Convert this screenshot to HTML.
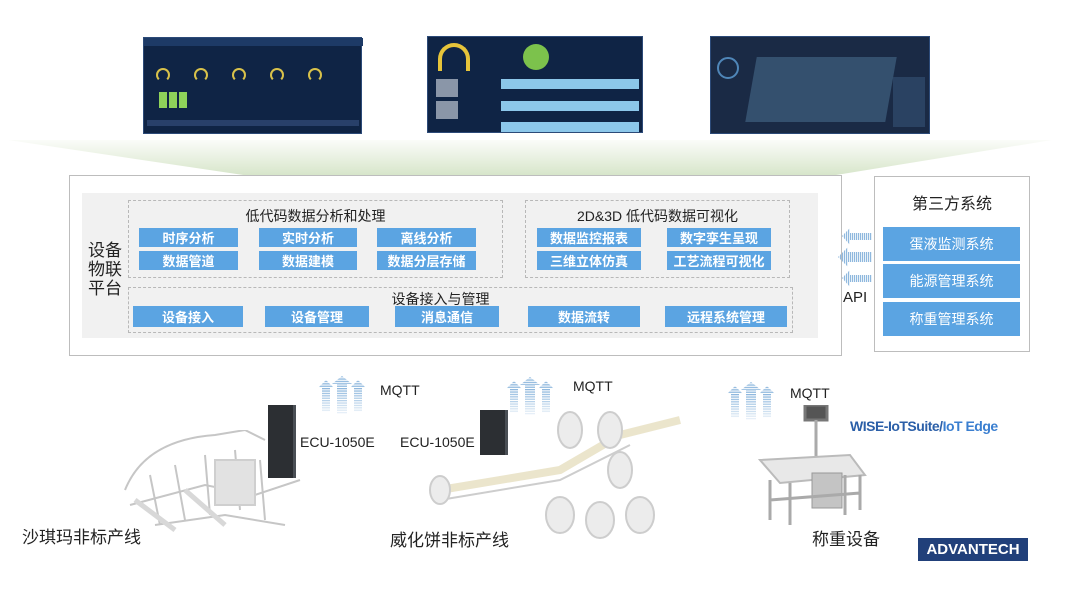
<!DOCTYPE html>
<html><head><meta charset="utf-8"><style>
*{margin:0;padding:0;box-sizing:border-box}
body{width:1080px;height:589px;position:relative;background:#fff;overflow:hidden;font-family:"Liberation Sans","Noto Sans CJK SC",sans-serif;color:#222}
.a{position:absolute}
.b{position:absolute;background:#5ba4e2;color:#fff;font-size:13px;font-weight:bold;display:flex;align-items:center;justify-content:center}
.t{position:absolute;background:#5ba4e2;color:#fff;font-size:14px;display:flex;align-items:center;justify-content:center}
.d{position:absolute;border:1px dashed #b8b8b8}
.scr{position:absolute;background:#0f2445;border:1px solid #2c4a78}
.gg{position:absolute;width:14px;height:14px;border:2px solid #d9c24a;border-radius:50%;border-bottom-color:transparent}
</style></head><body>
<svg class="a" style="left:0;top:138px" width="1080" height="40">
<defs><linearGradient id="g" x1="0" y1="0" x2="0" y2="1"><stop offset="0" stop-color="#fbfcf9"/><stop offset="1" stop-color="#d6e5c9"/></linearGradient></defs>
<polygon points="8,2 1052,2 830,38 250,38" fill="url(#g)"/></svg>
<div class="scr" style="left:143px;top:37px;width:219px;height:97px">
<div class="a" style="left:0;top:0;width:219px;height:8px;background:#1d3a66"></div>
<div class="gg" style="left:12px;top:30px"></div><div class="gg" style="left:50px;top:30px"></div><div class="gg" style="left:88px;top:30px"></div><div class="gg" style="left:126px;top:30px"></div><div class="gg" style="left:164px;top:30px"></div>
<div class="a" style="left:15px;top:54px;width:8px;height:16px;background:#8fd35a"></div>
<div class="a" style="left:25px;top:54px;width:8px;height:16px;background:#8fd35a"></div>
<div class="a" style="left:35px;top:54px;width:8px;height:16px;background:#8fd35a"></div>
<div class="a" style="left:3px;top:82px;width:212px;height:6px;background:#28406a"></div></div>
<div class="scr" style="left:427px;top:36px;width:216px;height:97px">
<div class="a" style="left:10px;top:6px;width:32px;height:28px;border:4px solid #e6c43a;border-bottom:none;border-radius:16px 16px 0 0"></div>
<div class="a" style="left:95px;top:7px;width:26px;height:26px;border-radius:50%;background:#7cc24c"></div>
<div class="a" style="left:8px;top:42px;width:22px;height:18px;background:#8a96a8"></div>
<div class="a" style="left:8px;top:64px;width:22px;height:18px;background:#8a96a8"></div>
<div class="a" style="left:73px;top:42px;width:138px;height:10px;background:#8cc7ea"></div>
<div class="a" style="left:73px;top:64px;width:138px;height:10px;background:#8cc7ea"></div>
<div class="a" style="left:73px;top:85px;width:138px;height:10px;background:#8cc7ea"></div></div>
<div class="scr" style="left:710px;top:36px;width:220px;height:98px;background:#1a2a45">
<div class="a" style="left:40px;top:20px;width:140px;height:65px;background:#34506e;transform:skewX(-10deg)"></div>
<div class="a" style="left:6px;top:20px;width:22px;height:22px;border:2px solid #4f86b8;border-radius:50%"></div>
<div class="a" style="left:182px;top:40px;width:32px;height:50px;background:#2a4262"></div></div>
<div class="a" style="left:69px;top:175px;width:773px;height:181px;border:1px solid #bdbdbd"></div>
<div class="a" style="left:82px;top:193px;width:736px;height:145px;background:#f1f1f1"></div>
<div class="d" style="left:128px;top:200px;width:375px;height:78px"></div>
<div class="d" style="left:525px;top:200px;width:265px;height:78px"></div>
<div class="d" style="left:128px;top:287px;width:665px;height:46px"></div>
<div class="a" style="left:88px;top:241px;font-size:17px;line-height:19px;width:40px">设备<br>物联<br>平台</div>
<div class="a" style="left:128px;top:206px;width:375px;text-align:center;font-size:14px">低代码数据分析和处理</div>
<div class="a" style="left:525px;top:206px;width:265px;text-align:center;font-size:14px">2D&amp;3D 低代码数据可视化</div>
<div class="a" style="left:128px;top:289px;width:625px;text-align:center;font-size:14px">设备接入与管理</div>
<div class="b" style="left:139px;top:228px;width:99px;height:19px">时序分析</div>
<div class="b" style="left:259px;top:228px;width:98px;height:19px">实时分析</div>
<div class="b" style="left:377px;top:228px;width:99px;height:19px">离线分析</div>
<div class="b" style="left:139px;top:251px;width:99px;height:19px">数据管道</div>
<div class="b" style="left:259px;top:251px;width:98px;height:19px">数据建模</div>
<div class="b" style="left:377px;top:251px;width:99px;height:19px">数据分层存储</div>
<div class="b" style="left:537px;top:228px;width:104px;height:19px">数据监控报表</div>
<div class="b" style="left:667px;top:228px;width:104px;height:19px">数字孪生呈现</div>
<div class="b" style="left:537px;top:251px;width:104px;height:19px">三维立体仿真</div>
<div class="b" style="left:667px;top:251px;width:104px;height:19px">工艺流程可视化</div>
<div class="b" style="left:133px;top:306px;width:110px;height:21px">设备接入</div>
<div class="b" style="left:265px;top:306px;width:104px;height:21px">设备管理</div>
<div class="b" style="left:395px;top:306px;width:104px;height:21px">消息通信</div>
<div class="b" style="left:528px;top:306px;width:112px;height:21px">数据流转</div>
<div class="b" style="left:665px;top:306px;width:122px;height:21px">远程系统管理</div>
<div class="a" style="left:874px;top:176px;width:156px;height:176px;border:1px solid #bdbdbd"></div>
<div class="a" style="left:874px;top:190px;width:156px;text-align:center;font-size:16px">第三方系统</div>
<div class="t" style="left:883px;top:227px;width:137px;height:34px">蛋液监测系统</div>
<div class="t" style="left:883px;top:264px;width:137px;height:34px">能源管理系统</div>
<div class="t" style="left:883px;top:302px;width:137px;height:34px">称重管理系统</div>
<svg class="a" style="left:838px;top:226px" width="36" height="64">
<defs><pattern id="s" width="2" height="4" patternUnits="userSpaceOnUse"><rect width="1.2" height="4" fill="#8fb8de"/></pattern></defs>
<polygon points="4,10 12,2 12,7 34,7 34,14 12,14 12,19" fill="url(#s)"/>
<polygon points="0,31 10,21 10,26 34,26 34,36 10,36 10,41" fill="url(#s)"/>
<polygon points="4,52 12,44 12,49 34,49 34,56 12,56 12,61" fill="url(#s)"/></svg>
<div class="a" style="left:843px;top:289px;font-size:15px">API</div>
<svg width="0" height="0"><defs>
<pattern id="h" width="4" height="2.4" patternUnits="userSpaceOnUse"><rect width="4" height="1.3" fill="#8fb8de"/></pattern>
<linearGradient id="fd" x1="0" y1="0" x2="0" y2="1"><stop offset="0" stop-color="#fff" stop-opacity="0"/><stop offset="1" stop-color="#fff" stop-opacity="0.9"/></linearGradient>
<g id="ar"><polygon points="0,12 8,4 16,12 12,12 12,36 4,36 4,12" fill="url(#h)"/><polygon points="14,8 24,0 34,8 29,8 29,38 19,38 19,8" fill="url(#h)"/><polygon points="32,12 40,4 48,12 44,12 44,36 36,36 36,12" fill="url(#h)"/><rect y="14" width="48" height="26" fill="url(#fd)"/></g></defs></svg>
<svg class="a" style="left:318px;top:376px" width="50" height="40"><use href="#ar"/></svg>
<svg class="a" style="left:506px;top:377px" width="50" height="40"><use href="#ar"/></svg>
<svg class="a" style="left:727px;top:382px" width="50" height="40"><use href="#ar"/></svg>
<div class="a" style="left:380px;top:382px;font-size:14px">MQTT</div>
<div class="a" style="left:573px;top:378px;font-size:14px">MQTT</div>
<div class="a" style="left:790px;top:385px;font-size:14px">MQTT</div>
<svg class="a" style="left:115px;top:430px" width="190" height="105" stroke="#c6c6c6" fill="none" stroke-width="2">
<path d="M10,60 Q30,10 100,5 L130,0 L150,10"/><path d="M15,75 L90,55 L140,65 L185,50"/><path d="M40,95 L110,85 L170,95"/>
<path d="M35,45 L45,95 M60,35 L70,90 M90,25 L95,85 M120,20 L125,80 M145,30 L150,90"/>
<rect x="100" y="30" width="40" height="45" fill="#e2e2e2" stroke="#cfcfcf"/>
<path d="M20,70 L60,100 M70,60 L110,95" stroke="#d8d8d8" stroke-width="5"/></svg>
<svg class="a" style="left:420px;top:410px" width="290" height="130" stroke="#cdcdcd" fill="none" stroke-width="2">
<path d="M20,80 L140,60 L200,25 L260,10" stroke-width="8" stroke="#ebe5cc"/><path d="M20,90 L140,70 L210,35"/>
<ellipse cx="150" cy="20" rx="12" ry="18" fill="#ececec"/><ellipse cx="190" cy="20" rx="12" ry="18" fill="#ececec"/><ellipse cx="200" cy="60" rx="12" ry="18" fill="#ececec"/>
<ellipse cx="140" cy="105" rx="14" ry="18" fill="#ececec"/><ellipse cx="180" cy="110" rx="14" ry="18" fill="#ececec"/><ellipse cx="220" cy="105" rx="14" ry="18" fill="#ececec"/>
<ellipse cx="20" cy="80" rx="10" ry="14" fill="#ececec"/></svg>
<svg class="a" style="left:750px;top:405px" width="120" height="125" stroke="#aaa" fill="none" stroke-width="3">
<rect x="55" y="0" width="22" height="15" fill="#555" stroke="#777"/><path d="M66,15 L66,70"/>
<polygon points="10,55 100,50 115,70 30,78" fill="#e8e8e8" stroke="#bbb" stroke-width="2"/>
<rect x="62" y="68" width="30" height="35" fill="#c4c4c4" stroke="#999" stroke-width="1"/>
<path d="M20,75 L20,115 M40,78 L40,120 M95,70 L95,110 M110,70 L110,105 M20,95 L110,88"/></svg>
<div class="a" style="left:268px;top:405px;width:28px;height:73px;background:#2c2f33;border-right:3px solid #4a4f55"></div>
<div class="a" style="left:480px;top:410px;width:28px;height:45px;background:#2c2f33;border-right:3px solid #4a4f55"></div>
<div class="a" style="left:300px;top:434px;font-size:14px">ECU-1050E</div>
<div class="a" style="left:400px;top:434px;font-size:14px">ECU-1050E</div>
<div class="a" style="left:850px;top:418px;font-size:14px;font-weight:bold;color:#2b5fa8;letter-spacing:-0.5px">WISE-IoTSuite/<span style="color:#3b7fd0">IoT Edge</span></div>
<div class="a" style="left:22px;top:523px;font-size:17px">沙琪玛非标产线</div>
<div class="a" style="left:390px;top:526px;font-size:17px">威化饼非标产线</div>
<div class="a" style="left:812px;top:525px;font-size:17px">称重设备</div>
<div class="a" style="left:918px;top:538px;width:110px;height:23px;background:#21407a;color:#fff;font-size:15px;font-weight:bold;display:flex;align-items:center;justify-content:center">ADVANTECH</div>
</body></html>
